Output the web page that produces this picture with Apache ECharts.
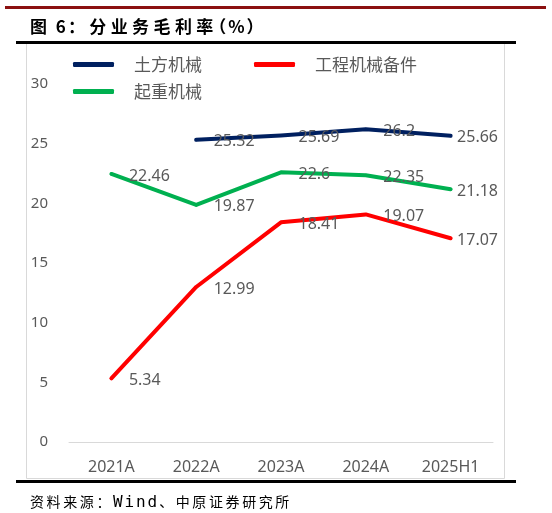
<!DOCTYPE html>
<html>
<head>
<meta charset="utf-8">
<script src="https://cdn.jsdelivr.net/npm/echarts@6/dist/echarts.min.js"></script>
<style>
  html, body { margin: 0; padding: 0; background: #fff; }
  #wrap { position: relative; width: 552px; height: 513px; }
  #chart { position: absolute; left: 0; top: 0; width: 552px; height: 513px; }
  #title { position: absolute; left: 30px; top: 15px; font-family: "Noto Sans CJK SC", sans-serif; font-weight: bold; font-size: 17px; letter-spacing: 4.4px; color: #000; line-height: 22px; white-space: nowrap; }
  #title .tight { letter-spacing: 2.5px; }
  #title .num { letter-spacing: 2px; }
  #title .halt { font-feature-settings: "halt"; letter-spacing: 2px; }
  #source { position: absolute; left: 30px; top: 492px; font-family: "Noto Sans CJK SC", sans-serif; font-size: 14px; letter-spacing: 2.6px; color: #000; line-height: 18px; white-space: nowrap; }
  #source .latin { font-family: "DejaVu Sans Mono", monospace; font-size: 16px; letter-spacing: 1.9px; }
</style>
</head>
<body>
<div id="wrap">
  <div id="chart"></div>
  <div id="title"><span class="tight">图 </span><span class="num">6</span>：分业务毛利率<span class="halt">（%）</span></div>
  <div id="source">资料来源：<span class="latin">Wind</span>、中原证券研究所</div>
</div>
<script>
const categories = ['2021A', '2022A', '2023A', '2024A', '2025H1'];
const earthmoving = [null, 25.32, 25.69, 26.2, 25.66];   // 土方机械
const spareParts = [5.34, 12.99, 18.41, 19.07, 17.07];   // 工程机械备件
const lifting = [22.46, 19.87, 22.6, 22.35, 21.18];      // 起重机械
const yTicks = { min: 0, max: 30, interval: 5 };

const textGray = '#595959';
const labelFont = { fontFamily: 'Noto Sans', fontSize: 16, color: textGray };

function withLabels(arr) {
  const last = arr.length - 1;
  return arr.map((v, i) => (i === last ? { value: v, label: { distance: 5 } } : v));
}

function lineSeries(name, data, color) {
  return {
    name: name,
    type: 'line',
    data: withLabels(data),
    symbol: 'circle',
    symbolSize: 3,
    showSymbol: true,
    connectNulls: false,
    lineStyle: { color: color, width: 4, cap: 'round', join: 'round' },
    itemStyle: { color: color },
    label: Object.assign({ show: true, position: 'right', distance: 16, offset: [0, 2] }, labelFont),
    emphasis: { disabled: true }
  };
}

const chart = echarts.init(document.getElementById('chart'), null, { renderer: 'canvas' });
const legendText = { fontFamily: 'Noto Sans CJK SC', fontSize: 17, color: textGray };
chart.setOption({
  animation: false,
  backgroundColor: '#fff',
  color: ['#002060', '#FF0000', '#00B050'],
  legend: [
    {
      data: ['土方机械', '工程机械备件'],
      left: 73, top: 56, padding: 0,
      orient: 'horizontal',
      icon: 'roundRect', itemWidth: 41, itemHeight: 5, itemGap: 52,
      textStyle: Object.assign({ padding: [0, 0, 0, 15] }, legendText)
    },
    {
      data: ['起重机械'],
      left: 73, top: 83, padding: 0,
      icon: 'roundRect', itemWidth: 41, itemHeight: 5,
      textStyle: Object.assign({ padding: [0, 0, 0, 15] }, legendText)
    }
  ],
  grid: { left: 69, right: 59, top: 84, bottom: 71 },
  xAxis: {
    type: 'category',
    data: categories,
    boundaryGap: true,
    axisLine: { show: true, lineStyle: { color: '#d9d9d9', width: 1 } },
    axisTick: { show: false },
    axisLabel: { margin: 17, fontFamily: 'Noto Sans', fontSize: 16, color: textGray }
  },
  yAxis: {
    type: 'value',
    min: yTicks.min, max: yTicks.max, interval: yTicks.interval,
    axisLine: { show: false },
    axisTick: { show: false },
    splitLine: { show: false },
    axisLabel: { margin: 21, fontFamily: 'Noto Sans', fontSize: 15, color: textGray }
  },
  graphic: [
    { type: 'line', shape: { x1: 5, y1: 7.5, x2: 546, y2: 7.5 }, style: { stroke: '#8B1010', lineWidth: 3 } },
    { type: 'rect', shape: { x: 26.5, y: 43.5, width: 478, height: 435 }, style: { fill: 'none', stroke: '#d9d9d9', lineWidth: 1 }, z: -1 },
    { type: 'line', shape: { x1: 16, y1: 42.5, x2: 516, y2: 42.5 }, style: { stroke: '#000', lineWidth: 3 } },
    { type: 'line', shape: { x1: 16, y1: 481.5, x2: 516, y2: 481.5 }, style: { stroke: '#000', lineWidth: 3 } }
  ],
  series: [
    lineSeries('土方机械', earthmoving, '#002060'),
    lineSeries('工程机械备件', spareParts, '#FF0000'),
    lineSeries('起重机械', lifting, '#00B050')
  ]
});
</script>
</body>
</html>
